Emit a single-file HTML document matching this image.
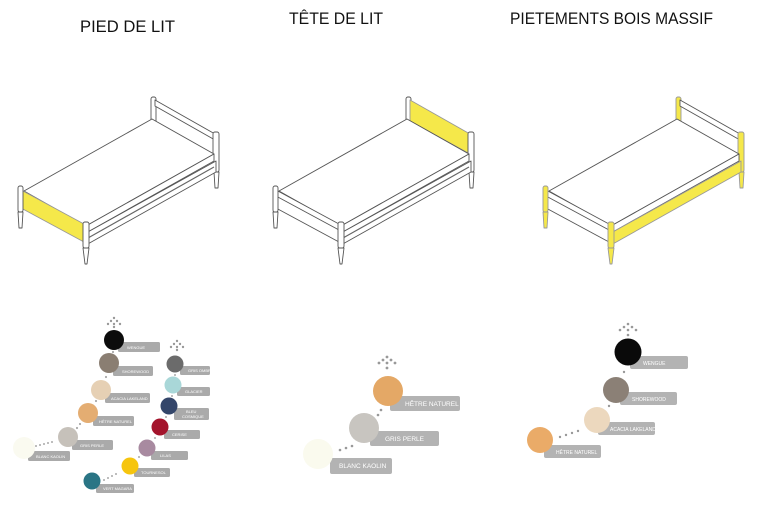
<!DOCTYPE html>
<html><head><meta charset="utf-8"><style>
html,body{margin:0;padding:0;background:#fff;}
svg{display:block;}
text{font-family:"Liberation Sans",sans-serif;}
.t{font-size:17px;fill:#111;}
.l{font-size:4px;fill:#fff;}
.lm{font-size:6.5px;fill:#fff;}
</style></head><body>
<svg width="760" height="506" viewBox="0 0 760 506" xmlns="http://www.w3.org/2000/svg">
<defs>
<g id="bedbase" stroke="#555" stroke-width="0.9" fill="#fff" stroke-linejoin="round">
  <!-- back head post -->
  <rect x="151" y="97" width="5" height="28" rx="2"/>
  <!-- headboard -->
  <polygon points="155,100 215,134 215,154 155,121" class="hb"/>
  <!-- right head post & leg -->
  <rect x="213" y="132" width="6" height="40" rx="2"/>
  <polygon points="214,172 219,172 218,188 215,188"/>
  <!-- mattress top -->
  <polygon points="24,191 152,119 214,154 86,226"/>
  <!-- mattress side -->
  <polygon points="86,226 214,154 214,161 86,233"/>
  <!-- side rail -->
  <polygon points="86,233 216,161 216,172 86,245" class="sr"/>
  <line x1="88" y1="238" x2="214" y2="167" stroke="#666" stroke-width="1.2"/>
  <!-- footboard -->
  <polygon points="21,190 84,224 84,242 21,208" class="fb"/>
  <!-- foot left post & leg -->
  <rect x="18" y="186" width="5" height="26" rx="2" class="lg"/>
  <polygon points="18,212 23,212 22,228 19,228" class="lg"/>
  <!-- foot right post & leg -->
  <rect x="83" y="222" width="6" height="26" rx="2" class="lg"/>
  <polygon points="83,248 89,248 87,264 85,264" class="lg"/>
</g>
</defs>

<text class="t" x="80" y="32" textLength="95" lengthAdjust="spacingAndGlyphs">PIED DE LIT</text>
<text class="t" x="289" y="24" textLength="94" lengthAdjust="spacingAndGlyphs">TÊTE DE LIT</text>
<text class="t" x="510" y="24" textLength="203" lengthAdjust="spacingAndGlyphs">PIETEMENTS BOIS MASSIF</text>

<!-- Bed 1 -->
<g stroke="#555" stroke-width="0.9" fill="#fff" stroke-linejoin="round">
  <rect x="151" y="97" width="5" height="28" rx="2"/>
  <polygon points="155,100 215,134 215,140 155,106"/>
  <rect x="213" y="132" width="6" height="40" rx="2"/>
  <polygon points="214,172 219,172 218,188 215,188"/>
  <polygon points="24,191 152,119 214,154 86,226"/>
  <polygon points="86,226 214,154 214,161 86,233"/>
  <polygon points="86,233 216,161 216,172 86,245"/>
  <line x1="88" y1="238" x2="214" y2="167" stroke="#666" stroke-width="1.2"/>
  <polygon points="21,190 84,224 84,242 21,208" fill="#f5e84a" stroke="#999"/>
  <rect x="18" y="186" width="5" height="26" rx="2"/>
  <polygon points="18,212 23,212 22,228 19,228"/>
  <rect x="83" y="222" width="6" height="26" rx="2"/>
  <polygon points="83,248 89,248 87,264 85,264"/>
</g>

<!-- Bed 2 -->
<g transform="translate(255,0)" stroke="#555" stroke-width="0.9" fill="#fff" stroke-linejoin="round">
  <rect x="151" y="97" width="5" height="28" rx="2"/>
  <polygon points="155,100 215,134 215,154 155,121" fill="#f5e84a" stroke="#999"/>
  <rect x="213" y="132" width="6" height="40" rx="2"/>
  <polygon points="214,172 219,172 218,188 215,188"/>
  <polygon points="24,191 152,119 214,154 86,226"/>
  <polygon points="86,226 214,154 214,161 86,233"/>
  <polygon points="86,233 216,161 216,172 86,245"/>
  <line x1="88" y1="238" x2="214" y2="167" stroke="#666" stroke-width="1.2"/>
  <polygon points="21,190 84,224 84,242 21,208"/>
  <line x1="21" y1="196" x2="84" y2="230"/>
  <rect x="18" y="186" width="5" height="26" rx="2"/>
  <polygon points="18,212 23,212 22,228 19,228"/>
  <rect x="83" y="222" width="6" height="26" rx="2"/>
  <polygon points="83,248 89,248 87,264 85,264"/>
</g>

<!-- Bed 3 -->
<g transform="translate(525,0)" stroke="#555" stroke-width="0.9" fill="#fff" stroke-linejoin="round">
  <rect x="151" y="97" width="5" height="28" rx="2" fill="#f5e84a" stroke="#999"/>
  <polygon points="155,100 215,134 215,140 155,106"/>
  <rect x="213" y="132" width="6" height="40" rx="2" fill="#f5e84a" stroke="#999"/>
  <polygon points="214,172 219,172 218,188 215,188" fill="#f5e84a" stroke="#999"/>
  <polygon points="24,191 152,119 214,154 86,226"/>
  <polygon points="86,226 214,154 214,161 86,233"/>
  <polygon points="86,233 216,161 216,172 86,245" fill="#f5e84a" stroke="#999"/>
  <polygon points="21,190 84,224 84,230 21,196"/>
  <line x1="21" y1="208" x2="84" y2="242"/>
  <rect x="18" y="186" width="5" height="26" rx="2" fill="#f5e84a" stroke="#999"/>
  <polygon points="18,212 23,212 22,228 19,228" fill="#f5e84a" stroke="#999"/>
  <rect x="83" y="222" width="6" height="26" rx="2" fill="#f5e84a" stroke="#999"/>
  <polygon points="83,248 89,248 87,264 85,264" fill="#f5e84a" stroke="#999"/>
</g>

<!-- Swatches: Pied de lit -->
<g fill="#aaa">
  <!-- arrows dots -->
  <g fill="#999"><circle cx="114" cy="318" r="1.2"/><circle cx="111" cy="321" r="1.2"/><circle cx="117" cy="321" r="1.2"/><circle cx="108" cy="324" r="1.2"/><circle cx="120" cy="324" r="1.2"/><circle cx="114" cy="324" r="1.2"/><circle cx="114" cy="327" r="1.2"/></g>
  <g fill="#999"><circle cx="177" cy="341" r="1.2"/><circle cx="174" cy="344" r="1.2"/><circle cx="180" cy="344" r="1.2"/><circle cx="171" cy="347" r="1.2"/><circle cx="183" cy="347" r="1.2"/><circle cx="177" cy="347" r="1.2"/><circle cx="177" cy="350" r="1.2"/></g>
  <!-- connector dots -->
  <g fill="#aaa"><circle cx="113" cy="352" r="1.1"/><circle cx="106" cy="377" r="1.1"/><circle cx="96" cy="401" r="1.1"/><circle cx="80" cy="424" r="1.1"/><circle cx="77" cy="428" r="1.1"/>
  <circle cx="36" cy="446" r="1"/><circle cx="40" cy="445" r="1"/><circle cx="44" cy="444" r="1"/><circle cx="48" cy="443" r="1"/><circle cx="52" cy="442" r="1"/>
  <circle cx="175" cy="375" r="1"/><circle cx="172" cy="396" r="1"/><circle cx="166" cy="417" r="1"/><circle cx="155" cy="438" r="1"/><circle cx="139" cy="457" r="1"/>
  <circle cx="104" cy="480" r="1"/><circle cx="108" cy="478" r="1"/><circle cx="112" cy="476" r="1"/><circle cx="116" cy="474" r="1"/></g>
  <!-- labels -->
  <rect x="118" y="342" width="42" height="10" rx="1.5"/>
  <rect x="113" y="366" width="40" height="10" rx="1.5"/>
  <rect x="105" y="393" width="45" height="10" rx="1.5"/>
  <rect x="93" y="416" width="41" height="10" rx="1.5"/>
  <rect x="72" y="440" width="41" height="10" rx="1.5"/>
  <rect x="28" y="451" width="42" height="10" rx="1.5"/>
  <rect x="180" y="366" width="30" height="9" rx="1.5"/>
  <rect x="177" y="387" width="33" height="9" rx="1.5"/>
  <rect x="174" y="408" width="35" height="12" rx="1.5"/>
  <rect x="164" y="430" width="36" height="9" rx="1.5"/>
  <rect x="151" y="451" width="37" height="9" rx="1.5"/>
  <rect x="134" y="468" width="36" height="9" rx="1.5"/>
  <rect x="96" y="484" width="38" height="9" rx="1.5"/>
  <!-- circles -->
  <circle cx="114" cy="340" r="10" fill="#0c0c0c"/>
  <circle cx="109" cy="363" r="10" fill="#8a7e72"/>
  <circle cx="101" cy="390" r="10" fill="#e6d0b4"/>
  <circle cx="88" cy="413" r="10" fill="#e4ad72"/>
  <circle cx="68" cy="437" r="10" fill="#c6c1ba"/>
  <circle cx="24" cy="448" r="11" fill="#fafaf0"/>
  <circle cx="175" cy="364" r="8.5" fill="#6b6b6b"/>
  <circle cx="173" cy="385" r="8.5" fill="#a9d7d8"/>
  <circle cx="169" cy="406" r="8.5" fill="#34466a"/>
  <circle cx="160" cy="427" r="8.5" fill="#a4142c"/>
  <circle cx="147" cy="448" r="8.5" fill="#a88aa0"/>
  <circle cx="130" cy="466" r="8.5" fill="#f6c50e"/>
  <circle cx="92" cy="481" r="8.5" fill="#2a7585"/>
</g>
<g class="l">
  <text x="127" y="349">WENGUE</text>
  <text x="122" y="373">SHOREWOOD</text>
  <text x="111" y="400">ACACIA LAKELAND</text>
  <text x="99" y="423">HÊTRE NATUREL</text>
  <text x="80" y="447">GRIS PERLE</text>
  <text x="36" y="458">BLANC KAOLIN</text>
  <text x="188" y="372">GRIS OMBRE</text>
  <text x="185" y="393">GLACIER</text>
  <text x="186" y="413">BLEU</text>
  <text x="182" y="418">COSMIQUE</text>
  <text x="172" y="436">CERISE</text>
  <text x="160" y="457">LILAS</text>
  <text x="141" y="474">TOURNESOL</text>
  <text x="103" y="490">VERT MAGARA</text>
</g>

<!-- Swatches: Tête de lit -->
<g fill="#999"><circle cx="387" cy="357" r="1.4"/><circle cx="383" cy="360" r="1.4"/><circle cx="391" cy="360" r="1.4"/><circle cx="379" cy="363" r="1.4"/><circle cx="395" cy="363" r="1.4"/><circle cx="387" cy="363" r="1.4"/><circle cx="387" cy="368" r="1.4"/>
<circle cx="381" cy="410" r="1.3"/><circle cx="378" cy="415" r="1.3"/><circle cx="352" cy="446" r="1.3"/><circle cx="346" cy="448" r="1.3"/><circle cx="340" cy="450" r="1.3"/></g>
<g fill="#b3b3b3">
  <rect x="390" y="396" width="70" height="15" rx="2"/>
  <rect x="370" y="431" width="69" height="15" rx="2"/>
  <rect x="330" y="458" width="62" height="16" rx="2"/>
</g>
<circle cx="388" cy="391" r="15" fill="#e4a866"/>
<circle cx="364" cy="428" r="15" fill="#c8c5c0"/>
<circle cx="318" cy="454" r="15" fill="#fafaee"/>
<g class="lm">
  <text x="405" y="406">HÊTRE NATUREL</text>
  <text x="385" y="441">GRIS PERLE</text>
  <text x="339" y="468">BLANC KAOLIN</text>
</g>

<!-- Swatches: Pietements -->
<g fill="#999"><circle cx="628" cy="324" r="1.3"/><circle cx="624" cy="327" r="1.3"/><circle cx="632" cy="327" r="1.3"/><circle cx="620" cy="330" r="1.3"/><circle cx="636" cy="330" r="1.3"/><circle cx="628" cy="330" r="1.3"/><circle cx="628" cy="335" r="1.3"/>
<circle cx="624" cy="372" r="1.2"/><circle cx="609" cy="406" r="1.2"/>
<circle cx="560" cy="437" r="1.2"/><circle cx="566" cy="435" r="1.2"/><circle cx="572" cy="433" r="1.2"/><circle cx="578" cy="431" r="1.2"/></g>
<g fill="#b3b3b3">
  <rect x="630" y="356" width="58" height="13" rx="2"/>
  <rect x="620" y="392" width="57" height="13" rx="2"/>
  <rect x="598" y="422" width="57" height="13" rx="2"/>
  <rect x="544" y="445" width="57" height="13" rx="2"/>
</g>
<circle cx="628" cy="352" r="13.5" fill="#0a0a0a"/>
<circle cx="616" cy="390" r="13" fill="#8b8076"/>
<circle cx="597" cy="420" r="13" fill="#ecd8be"/>
<circle cx="540" cy="440" r="13" fill="#eaab68"/>
<g class="l" style="font-size:5px">
  <text x="643" y="365">WENGUE</text>
  <text x="632" y="401">SHOREWOOD</text>
  <text x="610" y="431">ACACIA LAKELAND</text>
  <text x="556" y="454">HÊTRE NATUREL</text>
</g>
</svg>
</body></html>
